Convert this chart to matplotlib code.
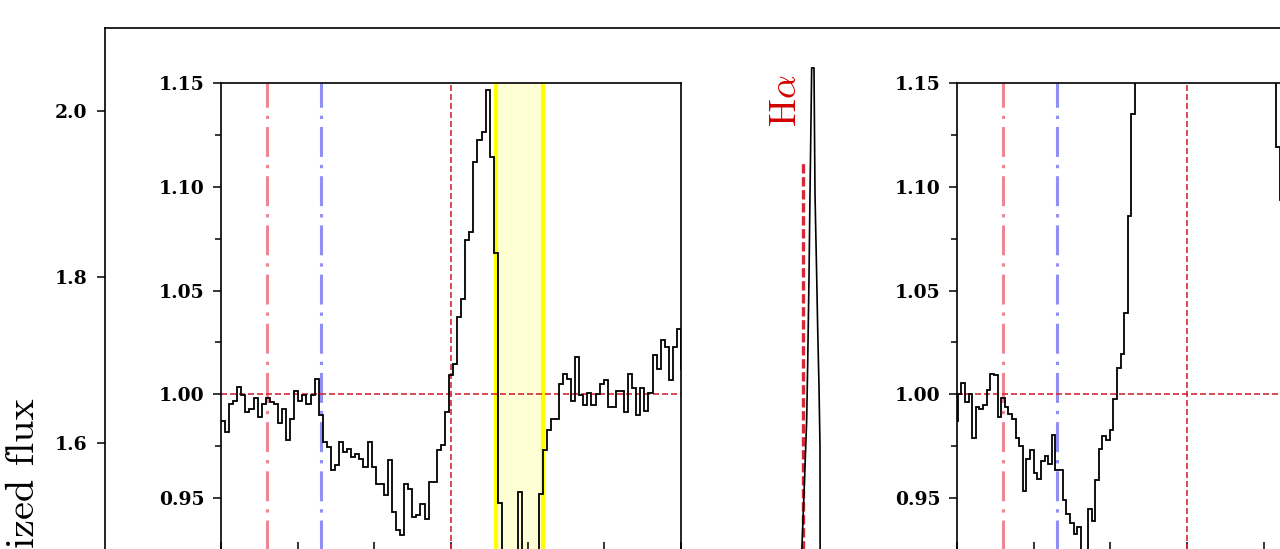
import numpy as np
import matplotlib
matplotlib.use('Agg')
import matplotlib.pyplot as plt
from matplotlib.ticker import MultipleLocator, FormatStrFormatter

plt.rcParams['mathtext.fontset'] = 'cm'
plt.rcParams['axes.unicode_minus'] = False

# ---------------- data ----------------
# Main panel: H-alpha emission (wavelength in Angstrom, normalized flux)
main_wave = [6555.0, 6560.0, 6561.5, 6562.2, 6562.54, 6563.06, 6563.54, 6563.74,
             6564.0, 6564.2, 6564.54, 6565.0, 6565.2, 6565.54, 6565.74, 6566.0,
             6566.2, 6566.25, 6567.0, 6570.0, 6575.0]
main_flux = [1.0, 1.0, 1.05, 1.30, 1.467, 1.548, 1.628, 1.697,
             1.80, 1.90, 2.052, 2.052, 1.90, 1.80, 1.737, 1.668,
             1.596, 1.30, 1.05, 1.0, 1.0]
HALPHA = 6562.8
HALPHA_LINE_TOP = 1.937

# Inset 1: velocity bins (km/s) and normalized flux
v1_start, v1_step = -3000.0, 53.1
flux1 = [0.987, 0.982, 0.9955, 0.997, 1.0035, 0.9995, 0.9915, 0.993, 0.998, 0.989,
         0.9955, 0.998, 0.9965, 0.9955, 0.986, 0.993, 0.978, 0.988, 1.0016, 0.997,
         0.9995, 0.9955, 0.9995, 1.0076, 0.990, 0.977, 0.9746, 0.9634, 0.9658, 0.977,
         0.9722, 0.9738, 0.9698, 0.9714, 0.969, 0.965, 0.977, 0.965, 0.957, 0.957,
         0.9513, 0.9685, 0.9433, 0.9344, 0.932, 0.957, 0.9545, 0.9409, 0.9417, 0.9473,
         0.940, 0.9577, 0.9577, 0.973, 0.9754, 0.9915, 1.0092, 1.0148, 1.0373, 1.0461,
         1.0743, 1.0783, 1.112, 1.1225, 1.1265, 1.1466, 1.1144, 1.0681, 0.9475, 0.90,
         0.88, 0.89, 0.91, 0.953, 0.90, 0.88, 0.89, 0.91, 0.952, 0.973,
         0.983, 0.988, 0.988, 1.005, 1.0096, 1.0076, 0.997, 1.018, 0.9995, 0.995,
         1.0006, 0.995, 1.0003, 1.005, 1.007, 0.994, 0.994, 1.0016, 1.0016, 0.9915,
         1.010, 1.003, 0.990, 1.003, 0.992, 1.0006, 1.019, 1.012, 1.026, 1.023,
         1.007, 1.023, 1.0315, 1.012]

# Inset 2: velocity bins (km/s) and normalized flux
v2_start, v2_step = -3038.0, 47.2
flux2 = [0.987, 1.0003, 1.0055, 0.9963, 1.0003, 0.979, 0.9939, 0.9931, 0.9947, 1.0019,
         1.010, 1.0092, 0.989, 0.9984, 0.9939, 0.9907, 0.9883, 0.9791, 0.9751, 0.9532,
         0.969, 0.9733, 0.9622, 0.9593, 0.9677, 0.9701, 0.9666, 0.9802, 0.9634, 0.9634,
         0.9492, 0.9425, 0.938, 0.9325, 0.936, 0.915, 0.920, 0.9449, 0.9389, 0.9589,
         0.9738, 0.9799, 0.9778, 0.983, 0.9979, 1.0129, 1.0193, 1.0392, 1.086, 1.1353,
         1.19, 1.25, 1.33, 1.42, 1.52, 1.62, 1.72, 1.80, 1.87, 1.92,
         1.95, 1.96, 1.95, 1.92, 1.88, 1.84, 1.80, 1.76, 1.72, 1.68,
         1.64, 1.60, 1.56, 1.52, 1.48, 1.45, 1.42, 1.39, 1.36, 1.33,
         1.31, 1.29, 1.27, 1.25, 1.23, 1.21, 1.19, 1.17, 1.16, 1.119,
         1.0935, 1.07, 1.05, 1.035, 1.02, 1.01, 1.005]

# reference velocities (km/s)
v_pink = -2400.0
v_blue = -1700.0
v_zero = 0.0
band1 = (585.0, 1200.0)

# ---------------- figure ----------------
W, H = 1280, 549
fig = plt.figure(figsize=(W / 100, H / 100), dpi=100)


def px_axes(l, t, r, b):
    return fig.add_axes([l / W, 1 - b / H, (r - l) / W, (b - t) / H])


RED = '#d62839'
LW_SP = 1.2
TICKFONT = dict(family='DejaVu Serif', weight='bold', size=13.5)


def style_ticklabels(a):
    for lbl in a.get_yticklabels():
        lbl.set_fontfamily(TICKFONT['family'])
        lbl.set_fontweight(TICKFONT['weight'])
        lbl.set_fontsize(TICKFONT['size'])


# main axes
ax = px_axes(105, 28, 1605, 1024)
ax.set_xlim(6423.2, 6723.2)
ax.set_ylim(0.9, 2.1)
ax.yaxis.set_major_locator(MultipleLocator(0.2))
ax.yaxis.set_major_formatter(FormatStrFormatter('%.1f'))
ax.tick_params(axis='y', which='major', direction='out', length=6, width=1.1,
               labelsize=TICKFONT['size'], labelfontfamily=TICKFONT['family'], pad=7)
ax.tick_params(axis='x', labelbottom=False)
for s in ax.spines.values():
    s.set_linewidth(LW_SP)
ax.plot(main_wave, main_flux, color='k', lw=1.2, zorder=3)
ax.plot([HALPHA, HALPHA], [0.9, HALPHA_LINE_TOP], color=RED, lw=2.4,
        linestyle=(0, (2.8, 1.1)), zorder=2)
ax.text(HALPHA - 3.4, 2.012, r'H$\alpha$', rotation=90, color='#d40000',
        fontsize=27, fontfamily='cmr10', ha='center', va='center')
ax.set_ylabel('Normalized flux', fontsize=29, fontfamily='cmr10')
ax.yaxis.set_label_coords(-0.042, 0.4875)


def make_inset(l, flux, v_start, v_step, band=None):
    axi = px_axes(l, 83, l + 460, 552)
    axi.set_xlim(-3000, 3000)
    axi.set_ylim(0.924, 1.15)
    axi.yaxis.set_major_locator(MultipleLocator(0.05))
    axi.yaxis.set_minor_locator(MultipleLocator(0.025))
    axi.xaxis.set_major_locator(MultipleLocator(1000))
    axi.yaxis.set_major_formatter(FormatStrFormatter('%.2f'))
    axi.tick_params(axis='y', which='major', direction='out', length=6, width=1.1,
                    labelsize=TICKFONT['size'], labelfontfamily=TICKFONT['family'],
                    pad=6)
    axi.tick_params(axis='y', which='minor', direction='out', length=4, width=1.1)
    axi.tick_params(axis='x', which='major', direction='in', length=7.5, width=1.1,
                    labelbottom=False)
    for s in axi.spines.values():
        s.set_linewidth(LW_SP)
    if band is not None:
        axi.axvspan(band[0], band[1], facecolor=(1, 1, 0.55, 0.35), edgecolor='none',
                    zorder=1)
        for b in band:
            axi.axvline(b, color='#ffff00', lw=3, zorder=1.5)
    axi.axvline(v_pink, color=(0.91, 0.45, 0.50, 0.85), lw=2.2,
                linestyle=(0, (9.8, 2.6, 1.1, 2.6)), zorder=2)
    axi.axvline(v_blue, color=(0.45, 0.45, 0.95, 0.8), lw=2.2,
                linestyle=(0, (9.8, 2.6, 1.1, 2.6)), zorder=2)
    axi.axvline(v_zero, color=RED, lw=1.2, linestyle=(0, (3.6, 1.8)), zorder=2)
    axi.axhline(1.0, color=RED, lw=1.2, linestyle=(0, (3.6, 1.8)), zorder=2)
    edges = v_start + v_step * np.arange(len(flux) + 1)
    axi.stairs(flux, edges, baseline=None, color='k', lw=1.3, zorder=3)
    return axi


ax1 = make_inset(221, flux1, v1_start, v1_step, band=band1)
ax2 = make_inset(957, flux2, v2_start, v2_step)

fig.canvas.draw()
for a in (ax, ax1, ax2):
    style_ticklabels(a)

fig.savefig('out.png', dpi=100)
